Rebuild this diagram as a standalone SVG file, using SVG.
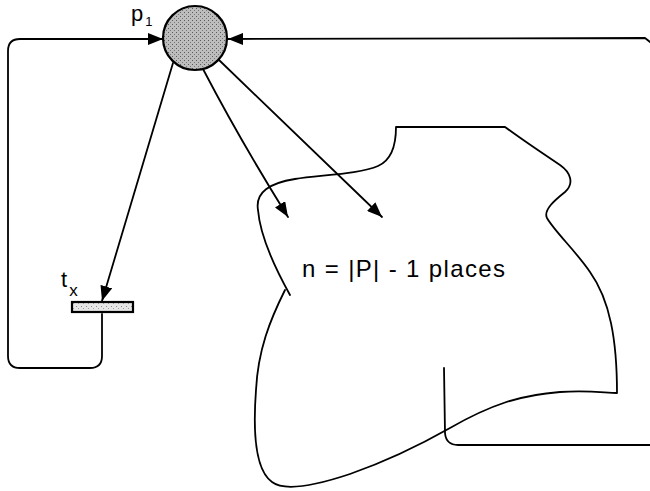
<svg xmlns="http://www.w3.org/2000/svg" width="650" height="491" viewBox="0 0 650 491">
  <style>
    .ln { fill: none; stroke: #000; stroke-width: 1.8; stroke-linejoin: round; stroke-linecap: round; }
    .lbl { font-family: "Liberation Sans", Arial, sans-serif; fill: #000; }
  </style>
  <defs>
    <marker id="ah" markerUnits="userSpaceOnUse" markerWidth="16" markerHeight="12" refX="15" refY="6" orient="auto">
      <path d="M0,0 L15,6 L0,12 Z" fill="#000"/>
    </marker>
    <pattern id="dots" width="4" height="4" patternUnits="userSpaceOnUse">
      <rect width="4" height="4" fill="#bdbdbd"/>
      <rect x="0" y="0" width="1" height="1" fill="#5a5a5a"/>
      <rect x="2" y="2" width="1" height="1" fill="#777"/>
    </pattern>
    <pattern id="dotsLight" width="5" height="5" patternUnits="userSpaceOnUse">
      <rect width="5" height="5" fill="#e6e6e6"/>
      <rect x="1" y="1" width="1" height="1" fill="#8a8a8a"/>
      <rect x="3" y="3" width="1" height="1" fill="#a0a0a0"/>
    </pattern>
  </defs>

  <g id="connectors">
    <path class="ln" d="M102,314 L102,356 Q102,368 90,368 L20,368 Q8,368 8,356 L8,51 Q8,39 20,39 L163,39" marker-end="url(#ah)"/>
    <path class="ln" d="M650,42 L645,38 L228,39" marker-end="url(#ah)"/>
    <path class="ln" d="M173,63 L102,301" marker-end="url(#ah)"/>
    <path class="ln" d="M203,69 Q240,140 288,217" marker-end="url(#ah)"/>
    <path class="ln" d="M219,60 L382,217" marker-end="url(#ah)"/>
  </g>

  <g id="subnet">
    <path class="ln" d="M285,290 C270,320 258,350 256,390 C253,430 255,470 272,482 C285,492 320,484 350,474 C390,460 420,445 450,428 C490,405 520,395 560,392 C590,390 605,393 617,393 C617,340 610,300 590,272 C575,250 555,232 547,218 C543,210 555,200 565,192 C575,183 570,172 560,165 C545,155 520,138 505,127 L396,127 C396,145 392,160 378,166 C360,174 320,175 295,179 C270,183 255,192 258,210 C260,235 275,268 290,295"/>
    <path class="ln" d="M444,368 L445,433 Q446,445 458,445 L650,445"/>
    <text class="lbl" x="302" y="277" font-size="24" textLength="203" lengthAdjust="spacing">n = |P| - 1 places</text>
  </g>

  <g id="p1">
    <circle cx="195" cy="38" r="32" fill="url(#dots)" stroke="#000" stroke-width="2.2"/>
    <text class="lbl" x="131" y="21" font-size="22">p<tspan font-size="13" dx="2" dy="5">1</tspan></text>
  </g>

  <g id="tx">
    <rect x="72" y="302" width="61" height="10" fill="url(#dotsLight)" stroke="#000" stroke-width="2.2"/>
    <text class="lbl" x="61" y="287" font-size="22">t<tspan font-size="17" dx="2" dy="9">x</tspan></text>
  </g>
</svg>
